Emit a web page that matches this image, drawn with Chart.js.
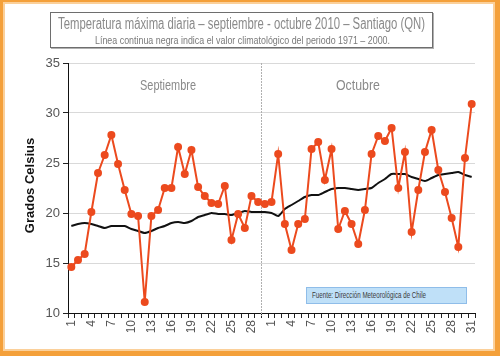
<!DOCTYPE html>
<html><head><meta charset="utf-8">
<script src="https://cdn.jsdelivr.net/npm/chart.js@4"></script>
<style>
html,body{margin:0;padding:0;background:#fff;}
#wrap{position:relative;width:500px;height:356px;overflow:hidden;background:#fff;}
#c{position:absolute;left:0;top:0;}
.frame{position:absolute;left:0;top:0;width:500px;height:356px;box-sizing:border-box;border-style:solid;border-color:#f4a03a;border-width:2px 5px 5px 3px;box-shadow:inset 0 0 0 2px #fbd09a;pointer-events:none;}
.t{position:absolute;white-space:nowrap;transform-origin:0 0;font-family:"Liberation Sans Narrow","Liberation Sans",Arial,sans-serif;}
#titlebox{position:absolute;left:50px;top:12px;width:383px;height:36px;box-sizing:border-box;border:1px solid #6e6e6e;box-shadow:1px 1px 0 #b0b0b0;background:#fff;}
#src{position:absolute;left:306px;top:287px;width:161px;height:17px;box-sizing:border-box;background:#bfe0f8;border:1px solid #8fbde9;}
#ytitle{position:absolute;left:-31px;top:178px;width:120px;text-align:center;transform:rotate(-90deg);font:bold 13px "Liberation Sans",Arial,sans-serif;color:#111;}
</style></head>
<body>
<div id="wrap">
  <canvas id="c" width="500" height="356"></canvas>
  <div id="titlebox"></div>
  <span class="t" id="t1" data-w="367" style="left:58px;top:15px;font-size:16px;color:#8a8a8a;">Temperatura máxima diaria – septiembre - octubre 2010 – Santiago (QN)</span>
  <span class="t" id="t2" data-w="295" style="left:95px;top:34px;font-size:11.5px;color:#7a7a7a;">Línea continua negra indica el valor climatológico del periodo 1971 – 2000.</span>
  <span class="t" id="m1" data-w="56" style="left:140px;top:76px;font-size:15px;color:#8a8a8a;">Septiembre</span>
  <span class="t" id="m2" data-w="44" style="left:336px;top:76px;font-size:15px;color:#8a8a8a;">Octubre</span>
  <div id="src"></div>
  <span class="t" id="s1" data-w="114" style="left:312px;top:290px;font-size:8.5px;color:#3a3a3a;">Fuente: Dirección Meteorológica de Chile</span>
  <div id="ytitle">Grados Celsius</div>
  <div class="frame"></div>
</div>
<script>
// Categories: days of September and October 2010
const septDays = ['1','2','3','4','5','6','7','8','9','10','11','12','13','14','15','16','17','18','19','20','21','22','23','24','25','26','27','28','29','30'];
const octDays  = ['1','2','3','4','5','6','7','8','9','10','11','12','13','14','15','16','17','18','19','20','21','22','23','24','25','26','27','28','29','30','31'];

// Daily maximum temperature (°C)
const tmaxSept = [14.6,15.3,15.9,20.1,24.0,25.8,27.8,24.9,22.3,19.9,19.7,11.1,19.7,20.3,22.5,22.5,26.6,23.9,26.3,22.6,21.7,21.0,20.9,22.7,17.3,19.9,18.5,21.7,21.1,20.9];
const tmaxOct  = [21.1,25.9,18.9,16.3,18.9,19.4,26.4,27.1,23.3,26.4,18.4,20.2,18.9,16.9,20.3,25.9,27.7,27.2,28.5,22.5,26.1,18.1,22.3,26.1,28.3,24.3,22.1,19.5,16.6,25.5,30.9];

// Climatological value 1971–2000 (°C)
const climSept = [18.7,18.9,19.0,18.9,18.7,18.5,18.7,18.7,18.7,18.4,18.2,18.0,18.2,18.5,18.7,19.0,19.1,19.0,19.2,19.6,19.8,20.0,19.9,19.9,19.8,20.0,20.2,20.1,20.1,20.1];
const climOct  = [20.0,19.7,20.4,20.8,21.2,21.6,21.8,21.8,22.1,22.4,22.5,22.5,22.4,22.3,22.4,22.5,23.0,23.4,23.9,23.9,23.9,23.6,23.4,23.2,23.5,23.8,23.9,24.0,24.1,23.8,23.6];

// Y axis ticks
const yMin = 10, yMax = 35, yStep = 5;

const labels = septDays.concat(octDays);
const tmax = tmaxSept.concat(tmaxOct);
const clim = climSept.concat(climOct);

// fit narrow texts
document.querySelectorAll('.t[data-w]').forEach(el => {
  const w = el.getBoundingClientRect().width;
  const target = parseFloat(el.dataset.w);
  if (w > 0) el.style.transform = 'scaleX(' + (target / w) + ')';
});

const separator = {
  id: 'separator',
  beforeDatasetsDraw(chart) {
    const x = chart.scales.x;
    const a = chart.chartArea;
    const px = (x.getPixelForValue(septDays.length - 2) + x.getPixelForValue(septDays.length - 1)) / 2;
    const ctx = chart.ctx;
    ctx.save();
    ctx.strokeStyle = '#b0b0b0';
    ctx.lineWidth = 1;
    ctx.setLineDash([2, 1]);
    ctx.beginPath();
    ctx.moveTo(Math.round(px) + 0.5, a.top);
    ctx.lineTo(Math.round(px) + 0.5, a.bottom + 3);
    ctx.stroke();
    ctx.restore();
  }
};

new Chart(document.getElementById('c'), {
  type: 'line',
  data: {
    labels: labels,
    datasets: [
      {
        label: 'Temperatura máxima',
        data: tmax,
        borderColor: '#ec4a1e',
        backgroundColor: '#ec4a1e',
        borderWidth: 2,
        pointRadius: 4,
        pointBorderWidth: 0,
        pointBackgroundColor: '#ec4a1e',
        tension: 0,
        order: 1
      },
      {
        label: 'Climatología 1971–2000',
        data: clim,
        borderColor: '#111111',
        borderWidth: 2,
        pointRadius: 0,
        tension: 0.2,
        order: 2
      }
    ]
  },
  options: {
    responsive: false,
    animation: false,
    devicePixelRatio: 1,
    layout: { padding: { top: 63, right: 25, left: 0, bottom: 0 } },
    plugins: { legend: { display: false }, tooltip: { enabled: false }, title: { display: false } },
    scales: {
      x: {
        type: 'category',
        offset: true,
        grid: { display: true, drawOnChartArea: false, drawTicks: true, tickLength: 5, offset: true, color: '#222', tickColor: '#222' },
        border: { display: true, color: '#111', width: 1 },
        ticks: {
          autoSkip: false, maxRotation: 90, minRotation: 90, padding: 2,
          color: '#555', font: { family: '"Liberation Sans", Arial, sans-serif', size: 12 },
          callback: function (v, i) { const d = Number(labels[i]); return ((d - 1) % 3 === 0) ? labels[i] : ''; }
        },
        afterFit: s => { s.height = 43; }
      },
      y: {
        min: yMin, max: yMax,
        ticks: { stepSize: yStep, color: '#555', padding: 3, font: { family: '"Liberation Sans", Arial, sans-serif', size: 13 } },
        grid: { color: '#d9d9d9', lineWidth: 1, tickLength: 5, tickColor: '#222' },
        border: { display: true, color: '#111', width: 1 },
        afterFit: s => { s.width = 68; }
      }
    }
  },
  plugins: [separator]
});
</script>
</body></html>
